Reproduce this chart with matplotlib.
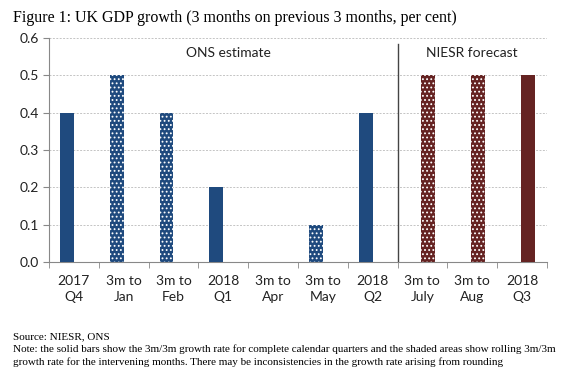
import matplotlib.pyplot as plt
import numpy as np

# data
labels = ["2017\nQ4", "3m to\nJan", "3m to\nFeb", "2018\nQ1", "3m to\nApr",
          "3m to\nMay", "2018\nQ2", "3m to\nJuly", "3m to\nAug", "2018\nQ3"]
growth = [0.4, 0.5, 0.4, 0.2, 0.0, 0.1, 0.4, 0.5, 0.5, 0.5]
dotted = [False, True, True, False, True, True, False, True, True, False]
forecast = [False] * 7 + [True] * 3

blue = "#1F4A7E"
maroon = "#652322"

plt.rcParams["font.family"] = ["Lato", "DejaVu Sans"]
plt.rcParams["hatch.linewidth"] = 0.8

fig = plt.figure(figsize=(5.69, 3.68), dpi=100)
ax = fig.add_axes([0.0861, 0.288, 0.875, 0.6087])

x = np.arange(len(labels))
for i in range(len(labels)):
    col = maroon if forecast[i] else blue
    off = 0.12 if forecast[i] else -0.14
    ax.bar(x[i] + off, growth[i], width=0.28, color=col, linewidth=0, zorder=3)
    if dotted[i]:
        ax.bar(x[i] + off, growth[i], width=0.28, fill=False, hatch="....",
               edgecolor="white", linewidth=0, zorder=4)

ax.set_xlim(-0.5, len(labels) - 0.5)
ax.set_ylim(0, 0.6)
ax.set_yticks(np.arange(0, 0.61, 0.1))
ax.set_yticklabels(["%.1f" % v for v in np.arange(0, 0.61, 0.1)])
ax.set_xticks(x)
ax.set_xticklabels(labels, linespacing=1.4)
ax.set_xticks(np.arange(-0.5, len(labels)), minor=True)
ax.tick_params(axis="x", which="major", length=0, pad=9, labelsize=10, colors="#222222")
ax.tick_params(axis="x", which="minor", length=4, color="#888888")
ax.tick_params(axis="y", length=4, color="#888888", labelsize=10, labelcolor="#222222")

ax.grid(axis="y", linestyle=(0, (2, 1.5)), color="#C4C4C4", linewidth=0.7, zorder=0)
for s in ["top", "right"]:
    ax.spines[s].set_visible(False)
for s in ["left", "bottom"]:
    ax.spines[s].set_color("#888888")

# split between estimate and forecast
ax.plot([6.5, 6.5], [0, 0.585], color="#444444", linewidth=1, zorder=5)
ax.text(3.1, 0.56, "ONS estimate", ha="center", va="center", fontsize=10, color="#222222")
ax.text(8.0, 0.56, "NIESR forecast", ha="center", va="center", fontsize=10, color="#222222")

fig.text(0.023, 0.952, "Figure 1: UK GDP growth (3 months on previous 3 months, per cent)",
         family="Liberation Serif", fontsize=11.5, va="center")
fig.text(0.023, 0.084, "Source: NIESR, ONS", family="Liberation Serif", fontsize=8, va="center")
fig.text(0.023, 0.05, "Note: the solid bars show the 3m/3m growth rate for complete calendar quarters and the shaded areas show rolling 3m/3m",
         family="Liberation Serif", fontsize=8, va="center")
fig.text(0.023, 0.016, "growth rate for the intervening months. There may be inconsistencies in the growth rate arising from rounding",
         family="Liberation Serif", fontsize=8, va="center")

fig.savefig("out.png", dpi=100)
